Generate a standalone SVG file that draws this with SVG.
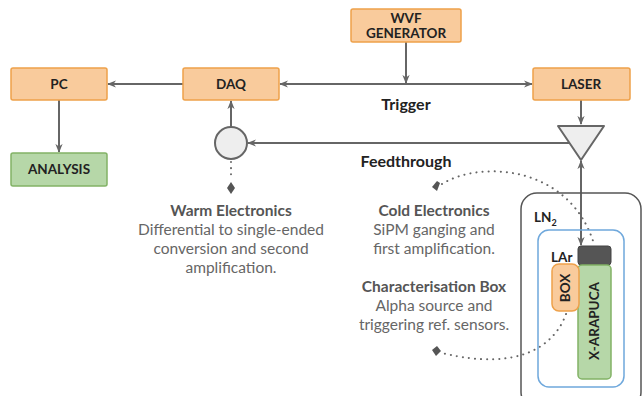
<svg xmlns="http://www.w3.org/2000/svg" width="642" height="396" viewBox="0 0 642 396">
<defs>
<marker id="ah" viewBox="0 0 10 10" refX="9" refY="5" markerWidth="9" markerHeight="9" markerUnits="userSpaceOnUse" orient="auto-start-reverse">
<path d="M0,1 L10,5 L0,9 L3,5 Z" fill="#666"/>
</marker>
</defs>
<style>
.box{stroke-width:1.5}
.or{fill:#f9cb9c;stroke:#eea14a}
.gr{fill:#b6d7a8;stroke:#82b366}
.lbl{font-family:Lato,"Open Sans",sans-serif;font-weight:bold;font-size:13.5px;fill:#222;text-anchor:middle}
.big{font-family:Lato,"Open Sans",sans-serif;font-weight:bold;font-size:16px;fill:#222;text-anchor:middle}
.ln{stroke:#666;stroke-width:2;fill:none}
.dot{stroke:#666;stroke-width:2;fill:none;stroke-dasharray:0.1 6;stroke-linecap:round}
.ttl{font-family:Lato,"Open Sans",sans-serif;font-weight:bold;font-size:15.5px;fill:#555;text-anchor:middle}
.body{font-family:Lato,"Open Sans",sans-serif;font-size:15.5px;fill:#666;text-anchor:middle}
.dia{fill:#555}
</style>
<rect width="642" height="396" fill="#fff"/>

<g id="connectors">
<line class="ln" x1="183" y1="84" x2="108" y2="84" marker-end="url(#ah)"/>
<line class="ln" x1="59" y1="100" x2="59" y2="152" marker-end="url(#ah)"/>
<line class="ln" x1="280" y1="84" x2="532" y2="84" marker-start="url(#ah)" marker-end="url(#ah)"/>
<line class="ln" x1="406" y1="42" x2="406" y2="83" marker-end="url(#ah)"/>
<line class="ln" x1="581" y1="100" x2="581" y2="124" marker-end="url(#ah)"/>
<line class="ln" x1="569" y1="143" x2="248" y2="143" marker-end="url(#ah)"/>
<line class="ln" x1="231" y1="127" x2="231" y2="101" marker-end="url(#ah)"/>
<line class="ln" x1="581" y1="161" x2="581" y2="245" marker-start="url(#ah)" marker-end="url(#ah)"/>
<line class="dot" x1="231" y1="162" x2="231" y2="180"/>
<path class="dot" d="M442,184 C480,160 570,165 594,244"/>
<path class="dot" d="M566,314 C555,345 520,372 442,353"/>
</g>

<g id="diamonds">
<path class="dia" d="M231,182 L235,188 L231,194 L227,188 Z"/>
<path class="dia" d="M432,187 L437,181 L440,183 L437,191 Z"/>
<path class="dia" d="M432,350 L437,346 L441,351 L436,356 Z"/>
</g>

<g id="pc"><rect class="box or" x="11" y="68" width="96" height="32" rx="2"/><text class="lbl" x="59" y="89">PC</text></g>
<g id="daq"><rect class="box or" x="183" y="68" width="96" height="32" rx="2"/><text class="lbl" x="231" y="89">DAQ</text></g>
<g id="analysis"><rect class="box gr" x="11" y="153" width="96" height="33" rx="2"/><text class="lbl" x="59" y="174">ANALYSIS</text></g>
<g id="wvf"><rect class="box or" x="351" y="9" width="110" height="33" rx="2"/><text class="lbl" x="406" y="23">WVF</text><text class="lbl" x="406" y="38">GENERATOR</text></g>
<g id="laser"><rect class="box or" x="533" y="68" width="97" height="32" rx="2"/><text class="lbl" x="581" y="89">LASER</text></g>
<g id="trigger-label"><text class="big" x="406" y="110">Trigger</text></g>
<g id="feedthrough-label"><text class="big" x="406" y="167">Feedthrough</text></g>

<g id="warm-amp"><circle cx="231" cy="143" r="16" fill="#eee" stroke="#666" stroke-width="2"/></g>
<g id="feedthrough"><path d="M558,126 L604,126 L581,160 Z" fill="#eee" stroke="#666" stroke-width="2" stroke-linejoin="round"/></g>

<g id="ln2"><rect x="521" y="193" width="120" height="215" rx="16" fill="none" stroke="#555" stroke-width="1.5"/><text class="lbl" x="534" y="222" style="text-anchor:start">LN<tspan font-size="9" dy="4">2</tspan></text></g>
<g id="lar"><rect x="538" y="230" width="86" height="157" rx="11" fill="none" stroke="#6fa8dc" stroke-width="1.5"/><text class="lbl" x="551" y="262" style="text-anchor:start">LAr</text></g>
<g id="cold-elec"><rect x="578" y="246" width="33" height="19" rx="3" fill="#555" stroke="#444" stroke-width="1"/></g>
<g id="xarapuca"><rect class="box gr" x="578" y="265" width="33" height="114" rx="4"/><text class="lbl" transform="translate(599,321) rotate(-90)">X-ARAPUCA</text></g>
<g id="box"><rect class="box or" x="552" y="264" width="27" height="47" rx="7"/><text class="lbl" transform="translate(570,288) rotate(-90)">BOX</text></g>

<g id="warm-text">
<text class="ttl" x="231" y="216">Warm Electronics</text>
<text class="body" x="231" y="235">Differential to single-ended</text>
<text class="body" x="231" y="254">conversion and second</text>
<text class="body" x="231" y="273">amplification.</text>
</g>
<g id="cold-text">
<text class="ttl" x="434" y="216">Cold Electronics</text>
<text class="body" x="434" y="235">SiPM ganging and</text>
<text class="body" x="434" y="254">first amplification.</text>
</g>
<g id="char-text">
<text class="ttl" x="434" y="292">Characterisation Box</text>
<text class="body" x="434" y="311">Alpha source and</text>
<text class="body" x="434" y="330">triggering ref. sensors.</text>
</g>
</svg>
